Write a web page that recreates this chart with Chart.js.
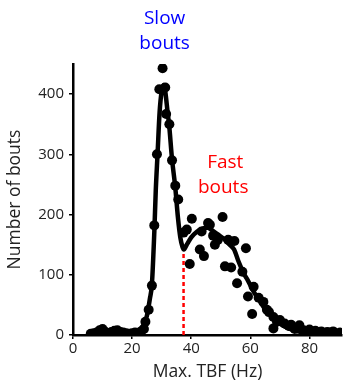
<!DOCTYPE html>
<html>
<head>
<meta charset="utf-8">
<script src="https://cdn.jsdelivr.net/npm/chart.js@4.4.0/dist/chart.umd.min.js"></script>
<style>
  html, body { margin: 0; padding: 0; background: #fff; }
  #wrap { width: 347px; height: 384px; }
</style>
</head>
<body>
<div id="wrap"><canvas id="tbfChart" width="347" height="384"></canvas></div>
<script>
// Histogram counts (dots)
const dotX = [6, 7, 8, 9, 10, 11, 12, 13, 14, 15, 16, 17, 18, 19, 20, 21, 22, 23, 24,
    24.5, 25.6, 26.7, 27.5, 28.4, 29.2, 30.3, 31.2, 31.5, 32.6, 33.5, 34.6, 35.6,
    37.4, 38.5, 39.5, 40.2, 42.9, 43.5, 44.3, 45.7, 46.3, 47.4, 48, 49, 50.6, 51.4,
    52.5, 53.5, 54.6, 55.5, 57.3, 58.5, 59.2, 60.6, 61.1, 62.8, 64.4, 65.6, 66.3,
    67.8, 67.8, 69, 70, 71.6, 73, 73.8, 75, 76.6, 78, 79, 80, 81, 82, 83, 84, 85,
    86, 87, 88, 89, 90.4];
const dotY = [2, 3, 4, 8, 10, 5, 3, 5, 7, 8, 5, 4, 3, 2, 3, 4, 2, 6, 10,
    22, 42, 82, 182, 300, 408, 443, 411, 367, 350, 290, 248, 225,
    170, 175, 118, 193, 142, 172, 131, 186, 183, 165, 150, 158, 196, 114,
    158, 112, 156, 86, 105, 144, 64, 35, 80, 62, 55, 42, 38,
    30, 11, 22, 25, 19, 15, 17, 10, 16, 8, 6, 9, 5, 7, 4, 6, 3,
    5, 4, 6, 3, 4];

// Two-peak fit (thick line)
const fitX = [5, 15, 18, 20, 22, 23, 24, 25, 26, 26.7, 27.5, 28, 28.6, 29.3, 30, 30.7,
    31.2, 32, 32.5, 33.5, 34.6, 35.5, 36.3, 37, 37.5, 38.5, 40, 42, 44, 45.5, 47,
    49, 51, 53, 54.5, 56, 58, 59, 61, 63, 65, 67, 68, 70, 73, 76, 80, 85, 90];
const fitY = [0, 0, 1, 3, 7, 11, 18, 32, 60, 85, 170, 240, 300, 370, 405, 415,
    405, 370, 350, 292, 245, 195, 162, 147, 142, 150, 162, 172, 177, 178, 174,
    167, 160, 150, 142, 122, 100, 92, 73, 58, 43, 33, 28, 19, 11, 6, 3, 1, 0];

// Slow / fast threshold
const thresholdX = 37.4;
const thresholdTop = 142;

const xTicks = [0, 20, 40, 60, 80];
const yTicks = [0, 100, 200, 300, 400];

const fontFam = "'Open Sans', sans-serif";

// Annotation labels "Slow bouts" / "Fast bouts"
const labelPlugin = {
    id: 'boutLabels',
    afterDatasetsDraw(chart) {
        const ctx = chart.ctx;
        const xs = chart.scales.x, ys = chart.scales.y;
        ctx.save();
        ctx.font = '19px ' + fontFam;
        ctx.textAlign = 'center';
        ctx.textBaseline = 'alphabetic';
        ctx.fillStyle = '#0000ff';
        ctx.fillText('Slow', xs.getPixelForValue(31), ys.getPixelForValue(517));
        ctx.fillText('bouts', xs.getPixelForValue(31), ys.getPixelForValue(475));
        ctx.fillStyle = '#ff0000';
        ctx.fillText('Fast', xs.getPixelForValue(51.5), ys.getPixelForValue(278));
        ctx.fillText('bouts', xs.getPixelForValue(50.8), ys.getPixelForValue(236));
        ctx.restore();
    }
};

const ctx = document.getElementById('tbfChart').getContext('2d');
const tbfChart = new Chart(ctx, {
    type: 'scatter',
    data: {
        datasets: [
            {
                label: 'threshold',
                data: [{ x: thresholdX, y: 0 }, { x: thresholdX, y: thresholdTop }],
                showLine: true,
                borderColor: '#ff0000',
                borderWidth: 2.5,
                borderDash: [4, 3],
                pointRadius: 0,
                order: 3
            },
            {
                label: 'fit',
                data: fitX.map((x, i) => ({ x: x, y: fitY[i] })),
                showLine: true,
                borderColor: '#000',
                borderWidth: 4.5,
                cubicInterpolationMode: 'monotone',
                pointRadius: 0,
                order: 2
            },
            {
                label: 'counts',
                data: dotX.map((x, i) => ({ x: x, y: dotY[i] })),
                backgroundColor: '#000',
                borderWidth: 0,
                pointRadius: 5,
                order: 1
            }
        ]
    },
    options: {
        responsive: false,
        animation: false,
        events: [],
        layout: { padding: { top: 64, right: 0, left: 0, bottom: 0 } },
        plugins: {
            legend: { display: false },
            tooltip: { enabled: false }
        },
        scales: {
            x: {
                type: 'linear',
                min: 0,
                max: 91,
                afterBuildTicks: scale => { scale.ticks = xTicks.map(v => ({ value: v })); },
                afterFit: scale => { scale.height = 49; },
                border: { display: true, color: '#000', width: 2.5 },
                grid: { drawOnChartArea: false, drawTicks: true, tickLength: 4, color: '#000', lineWidth: 1.5 },
                ticks: { color: '#222', font: { family: fontFam, size: 15 }, padding: 1, maxRotation: 0 },
                title: {
                    display: true,
                    text: 'Max. TBF (Hz)',
                    color: '#222',
                    font: { family: fontFam, size: 17.5 },
                    padding: { top: 0, bottom: 1 }
                }
            },
            y: {
                min: 0,
                max: 450,
                afterBuildTicks: scale => { scale.ticks = yTicks.map(v => ({ value: v })); },
                afterFit: scale => { scale.width = 73; },
                border: { display: true, color: '#000', width: 2.5 },
                grid: { drawOnChartArea: false, drawTicks: true, tickLength: 4, color: '#000', lineWidth: 1.5 },
                ticks: { color: '#222', font: { family: fontFam, size: 15 }, padding: 5 },
                title: {
                    display: true,
                    text: 'Number of bouts',
                    color: '#222',
                    font: { family: fontFam, size: 17.5 },
                    padding: { top: 5, bottom: 0 }
                }
            }
        }
    },
    plugins: [labelPlugin]
});
</script>
</body>
</html>
